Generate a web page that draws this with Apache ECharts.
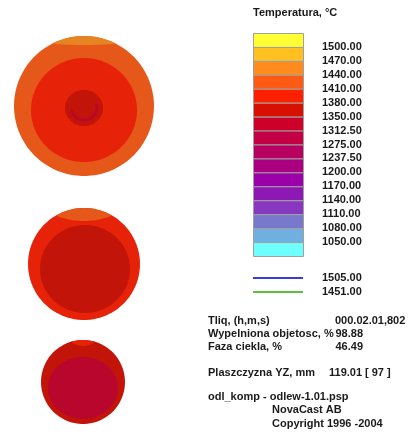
<!DOCTYPE html>
<html>
<head>
<meta charset="utf-8">
<script src="https://cdn.jsdelivr.net/npm/echarts@6/dist/echarts.min.js"></script>
<style>
  html, body { margin: 0; padding: 0; background: #ffffff; }
  #chart { width: 408px; height: 432px; }
</style>
</head>
<body>
<div id="chart"></div>
<script>
// Temperature scale: band colours from hottest (top) to coldest (bottom)
const bandColors = ['#FFFF33', '#FFC020', '#FF8C1C', '#FF5A14', '#FF2000', '#D81000',
  '#CC0028', '#C40044', '#B80060', '#AA0080', '#9C00A8', '#8E18B4', '#8838C0',
  '#7878CC', '#70B0E0', '#70FFFF'];
// Band boundaries, °C (top to bottom) and their printed labels
const tickTemps = [1500, 1470, 1440, 1410, 1380, 1350, 1312.5, 1275, 1237.5, 1200, 1170, 1140, 1110, 1080, 1050];
const tickLabels = ['1500.00', '1470.00', '1440.00', '1410.00', '1380.00', '1350.00', '1312.50',
  '1275.00', '1237.50', '1200.00', '1170.00', '1140.00', '1110.00', '1080.00', '1050.00'];

// Isotherm lines
const isoLabels = ['1505.00', '1451.00'];
const isoColors = ['#3a3ae0', '#5cc040'];

// Cross-sections in the YZ plane (mm): outer contour [cx, cy, r, °C]
const sectionOuter = [[84, 106, 70, 1425], [84, 264, 56, 1395], [83, 382, 42, 1365]];
// Hotter top caps [cx, cy, r, half-span deg, depth, °C]
const sectionCaps = [[84, 106, 70, 27, 9, 1455], [84, 264, 56, 30, 13, 1425], [83, 382, 42, 17, 6, 1395]];
// Inner zones [cx, cy, rx, ry, °C]
const sectionInner = [[84, 110, 53, 52, 1395], [85, 269, 45, 44, 1365], [83, 388, 35, 31, 1330], [84, 108, 19, 18, 1365]];
// Thin cooler arc inside the top core [cx, cy, r, start deg, end deg, °C]
const sectionArcs = [[84, 107, 13, -15, 165, 1340]];

// Simulation info block
const infoLabels = ['Tliq, (h,m,s)', 'Wypelniona objetosc, %', 'Faza ciekla, %'];
const infoValues = ['000.02.01,802', '98.88', '46.49'];
const planeLabel = 'Plaszczyzna YZ, mm';
const planeValues = ['119.01', '[ 97 ]'];
const footerLines = ['odl_komp - odlew-1.01.psp', 'NovaCast AB', 'Copyright 1996 -2004'];

// Sections are drawn with a slight shading relative to the scale bar
const SECTION_SHADE = 0.9;

function colorFor(t) {
  for (let k = 0; k < tickTemps.length; k++) {
    if (t >= tickTemps[k]) return bandColors[k];
  }
  return bandColors[bandColors.length - 1];
}
function shaded(hex) {
  const n = parseInt(hex.slice(1), 16);
  const r = Math.round(((n >> 16) & 255) * SECTION_SHADE);
  const g = Math.round(((n >> 8) & 255) * SECTION_SHADE + 6);
  const b = Math.round((n & 255) * SECTION_SHADE + 8);
  return 'rgb(' + r + ',' + Math.min(g, 255) + ',' + Math.min(b, 255) + ')';
}
function sectionColor(t) { return shaded(colorFor(t)); }

const FONT = '"Liberation Sans", Arial, sans-serif';
const chart = echarts.init(document.getElementById('chart'), null, { renderer: 'canvas' });

function ellipsePoints(api, cx, cy, rx, ry) {
  const pts = [];
  for (let k = 0; k < 90; k++) {
    const a = k / 90 * Math.PI * 2;
    pts.push(api.coord([cx + rx * Math.cos(a), cy + ry * Math.sin(a)]));
  }
  return pts;
}

const texts = [];
function addText(text, x, y, align) {
  texts.push({
    type: 'text', x: x, y: y, silent: true,
    style: { text: text, fill: '#1a1a1a', font: 'bold 11px ' + FONT,
      textAlign: align || 'left', textVerticalAlign: 'middle' }
  });
}
addText('Temperatura, °C', 253, 13);
const rowY = [321, 334, 347];
infoLabels.forEach((s, i) => addText(s, 208, rowY[i]));
addText(infoValues[0], 335, rowY[0]);
addText(infoValues[1], 363, rowY[1], 'right');
addText(infoValues[2], 363, rowY[2], 'right');
addText(planeLabel, 208, 373);
addText(planeValues[0], 329, 373);
addText(planeValues[1], 365, 373);
addText(footerLines[0], 208, 397);
addText(footerLines[1], 272, 410);
addText(footerLines[2], 272, 424);

const option = {
  animation: false,
  backgroundColor: '#ffffff',
  grid: [
    { left: 0, top: 0, width: 170, height: 432 },
    { left: 253, top: 33, width: 50, height: 223 },
    { left: 253, top: 271, width: 50, height: 28 }
  ],
  xAxis: [
    { gridIndex: 0, type: 'value', min: 0, max: 170, show: false },
    { gridIndex: 1, type: 'value', min: 0, max: 1, show: false },
    { gridIndex: 2, type: 'value', min: 0, max: 1, show: false }
  ],
  yAxis: [
    { gridIndex: 0, type: 'value', min: 0, max: 432, inverse: true, show: false },
    {
      gridIndex: 1, type: 'value', min: 0, max: 16, interval: 1, position: 'right',
      axisLine: { show: false }, splitLine: { show: false },
      axisTick: { show: true, length: 13, customValues: tickLabels.map((_, i) => 15 - i),
        lineStyle: { color: '#a8a8a8', width: 1 } },
      axisLabel: { show: true, margin: 19, customValues: tickLabels.map((_, i) => 15 - i),
        formatter: v => tickLabels[15 - Math.round(v)],
        color: '#1a1a1a', fontFamily: FONT, fontWeight: 'bold', fontSize: 11 }
    },
    {
      gridIndex: 2, type: 'value', min: 0, max: 2, position: 'right',
      axisLine: { show: false }, splitLine: { show: false }, axisTick: { show: false },
      axisLabel: { show: true, margin: 19, customValues: [1.5, 0.5],
        formatter: v => (v > 1 ? isoLabels[0] : isoLabels[1]),
        color: '#1a1a1a', fontFamily: FONT, fontWeight: 'bold', fontSize: 11 }
    }
  ],
  series: [
    {
      type: 'custom', xAxisIndex: 0, yAxisIndex: 0, z: 2, silent: true,
      data: sectionOuter,
      renderItem: (params, api) => ({
        type: 'polygon',
        shape: { points: ellipsePoints(api, api.value(0), api.value(1), api.value(2), api.value(2)) },
        style: { fill: sectionColor(api.value(3)) }
      })
    },
    {
      type: 'custom', xAxisIndex: 0, yAxisIndex: 0, z: 3, silent: true,
      data: sectionCaps,
      renderItem: (params, api) => {
        const cx = api.value(0), cy = api.value(1), r = api.value(2);
        const span = api.value(3) * Math.PI / 180, depth = api.value(4);
        const top = [], bottom = [];
        const n = 30;
        for (let k = 0; k <= n; k++) {
          const f = -1 + 2 * k / n;
          const phi = f * span;
          const x = cx + r * Math.sin(phi), y = cy - r * Math.cos(phi);
          top.push(api.coord([x, y]));
          bottom.push(api.coord([x, y + depth * (1 - f * f)]));
        }
        return {
          type: 'polygon',
          shape: { points: top.concat(bottom.reverse()) },
          style: { fill: sectionColor(api.value(5)) }
        };
      }
    },
    {
      type: 'custom', xAxisIndex: 0, yAxisIndex: 0, z: 4, silent: true,
      data: sectionInner,
      renderItem: (params, api) => ({
        type: 'polygon',
        shape: { points: ellipsePoints(api, api.value(0), api.value(1), api.value(2), api.value(3)) },
        style: { fill: sectionColor(api.value(4)) }
      })
    },
    {
      type: 'custom', xAxisIndex: 0, yAxisIndex: 0, z: 5, silent: true,
      data: sectionArcs,
      renderItem: (params, api) => {
        const cx = api.value(0), cy = api.value(1), r = api.value(2);
        const a0 = api.value(3) * Math.PI / 180, a1 = api.value(4) * Math.PI / 180;
        const pts = [];
        for (let k = 0; k <= 40; k++) {
          const a = a0 + (a1 - a0) * k / 40;
          pts.push(api.coord([cx + r * Math.cos(a), cy + r * Math.sin(a)]));
        }
        return {
          type: 'polyline',
          shape: { points: pts },
          style: { fill: null, stroke: sectionColor(api.value(5)), lineWidth: 2.5 }
        };
      }
    },
    {
      type: 'custom', xAxisIndex: 1, yAxisIndex: 1, z: 2, silent: true,
      data: bandColors.map((c, i) => [15 - i]),
      renderItem: (params, api) => {
        const i = api.value(0);
        const p0 = api.coord([0, i + 1]);
        const p1 = api.coord([1, i]);
        return {
          type: 'rect',
          shape: { x: p0[0] + 0.5, y: p0[1] + 0.5, width: p1[0] - p0[0], height: p1[1] - p0[1] },
          style: { fill: bandColors[params.dataIndex], stroke: '#a0a0a0', lineWidth: 1 }
        };
      }
    },
    {
      type: 'line', xAxisIndex: 2, yAxisIndex: 2, silent: true, symbol: 'none',
      data: [[0, 1.5], [1, 1.5]], lineStyle: { color: isoColors[0], width: 2 }
    },
    {
      type: 'line', xAxisIndex: 2, yAxisIndex: 2, silent: true, symbol: 'none',
      data: [[0, 0.5], [1, 0.5]], lineStyle: { color: isoColors[1], width: 2 }
    }
  ],
  graphic: { elements: texts }
};
chart.setOption(option);
</script>
</body>
</html>
